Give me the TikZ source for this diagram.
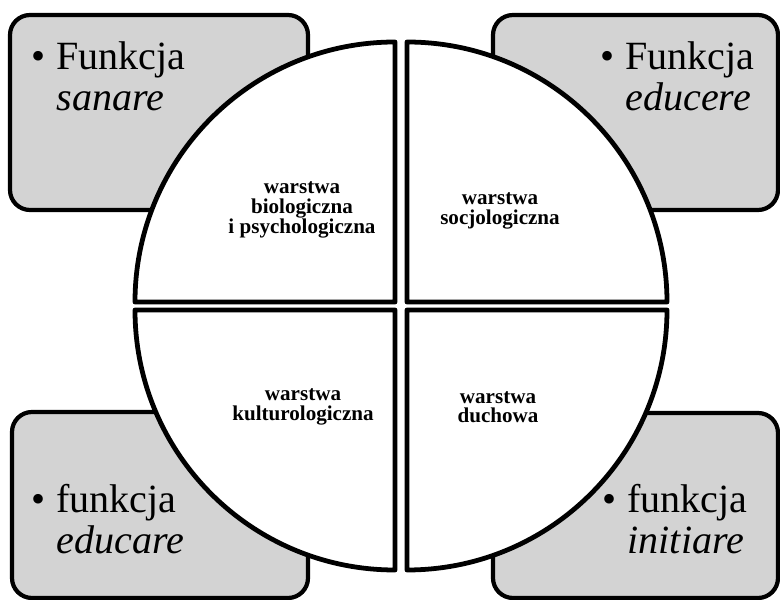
\documentclass[tikz,border=0pt]{standalone}
\usepackage{fontspec}
\setmainfont{Liberation Serif}
\usepackage{xcolor}
\usepackage{tikz}
\usetikzlibrary{calc}

\definecolor{boxgray}{RGB}{211,211,211}

\begin{document}
\begin{tikzpicture}[scale=1.0,
  funcbox/.style={draw=black, line width=3pt, fill=boxgray, rounded corners=0.5cm},
  quarter/.style={draw=black, line width=3.4pt, fill=white, line join=round},
  layer/.style={align=center, inner sep=0pt, font=\fontsize{15}{14.2}\selectfont\bfseries},
  func/.style={anchor=base west, inner sep=0pt, font=\fontsize{28.5}{29}\selectfont}]

\useasboundingbox (0,0) rectangle (19.5,15);

% Function boxes in the four corners
\draw[funcbox] (0.25,9.75) rectangle (7.7,14.625);
\draw[funcbox] (12.325,9.75) rectangle (19.45,14.625);
\draw[funcbox] (0.3,0.05) rectangle (7.7,4.7);
\draw[funcbox] (12.325,0.05) rectangle (19.45,4.675);

% Circle cut into four layers
\coordinate (C) at (10.025,7.35);
\foreach \a/\dx/\dy in {90/-0.15/0.1, 0/0.15/0.1, 180/-0.15/-0.1, 270/0.15/-0.1}
  \draw[quarter] ($(C)+(\dx,\dy)$) -- ++(\a:6.5) arc[start angle=\a, delta angle=90, radius=6.5] -- cycle;

% Layer names
\node[layer] (bio) at (7.55,9.75) {warstwa\\biologiczna\\i psychologiczna};
\node[layer] (socjo) at (12.5,9.72) {warstwa\\socjologiczna};
\node[layer] (kultur) at (7.575,4.82) {warstwa\\kulturologiczna};
\node[layer] (duch) at (12.45,4.82) {warstwa\\duchowa};

% Functions
\node[func] (sanare) at (0.775,13.25) {\begin{tabular}[t]{@{}l@{\hspace{8pt}}l@{}}\textbullet & Funkcja\\ & \textit{sanare}\end{tabular}};
\node[func] (educere) at (15.0,13.25) {\begin{tabular}[t]{@{}l@{\hspace{8pt}}l@{}}\textbullet & Funkcja\\ & \textit{educere}\end{tabular}};
\node[func] (educare) at (0.775,2.175) {\begin{tabular}[t]{@{}l@{\hspace{8pt}}l@{}}\textbullet & funkcja\\ & \textit{educare}\end{tabular}};
\node[func] (initiare) at (15.05,2.175) {\begin{tabular}[t]{@{}l@{\hspace{8pt}}l@{}}\textbullet & funkcja\\ & \textit{initiare}\end{tabular}};

\end{tikzpicture}
\end{document}
